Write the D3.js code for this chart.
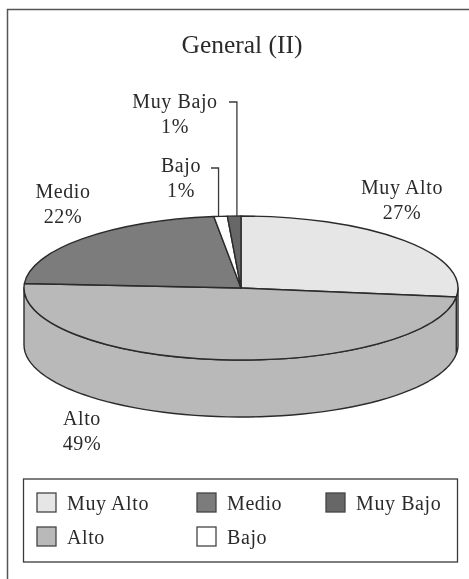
<!DOCTYPE html>
<html>
<head>
<meta charset="utf-8">
<script src="https://cdn.jsdelivr.net/npm/d3@7"></script>
<style>
  html, body { margin: 0; padding: 0; background: #fff; overflow: hidden; }
  svg { display: block; filter: blur(0.4px); }
  text { font-family: "Liberation Serif", serif; fill: #2a2a2a; }
</style>
</head>
<body>
<div id="chart"></div>
<script>
// values
const categories = ["Muy Alto", "Alto", "Medio", "Bajo", "Muy Bajo"]
const percents = [27, 49, 22, 1, 1]
const colors = ["#e6e6e6", "#b9b9b9", "#7c7c7c", "#ffffff", "#676767"]
const chartTitle = "General (II)"

// legend reads down the columns
const legendOrder = ["Muy Alto", "Alto", "Medio", "Bajo", "Muy Bajo"]

var width = 469
var height = 579
var cx = 241
var cy = 288
var rx = 217
var ry = 72
var depth = 57
var ink = "#2b2b2b"

var svg = d3.select("#chart").append("svg").attr("width", width).attr("height", height)

// outer frame, runs off the right and bottom of the scan
svg.append("path")
  .attr("d", "M7.5," + height + "V9.5H" + width)
  .attr("fill", "none").attr("stroke", "#555").attr("stroke-width", 1.5)

svg.append("text")
  .attr("x", 242).attr("y", 53)
  .attr("text-anchor", "middle").attr("font-size", 25.5)
  .text(chartTitle)

var dataset = categories.map(function(c, i) {
  return { name: c, n: percents[i], color: colors[i] }
})
var colorOf = d3.scaleOrdinal().domain(categories).range(colors)

var pie = d3.pie().sort(null).value(function(d) { return d.n })
var slices = pie(dataset)

// side wall, only the front half of the disc shows
function rimPoint(a, drop) {
  return [cx + rx * Math.sin(a), cy - ry * Math.cos(a) + drop]
}
var line = d3.line()
var front = [Math.PI / 2, Math.PI * 1.5]

var walls = svg.append("g")
slices.forEach(function(s) {
  var a0 = Math.max(s.startAngle, front[0])
  var a1 = Math.min(s.endAngle, front[1])
  if (a1 <= a0) return
  var steps = d3.range(0, 61).map(function(i) { return a0 + (a1 - a0) * i / 60 })
  var pts = steps.map(function(a) { return rimPoint(a, 0) })
    .concat(steps.slice().reverse().map(function(a) { return rimPoint(a, depth) }))
  walls.append("path")
    .attr("d", line(pts) + "Z")
    .attr("fill", s.data.color)
    .attr("stroke", ink).attr("stroke-width", 1.4).attr("stroke-linejoin", "round")
})

// top face: a flat pie squashed into an ellipse
var arc = d3.arc().innerRadius(0).outerRadius(rx)
svg.append("g")
  .attr("transform", "translate(" + cx + "," + cy + ") scale(1," + (ry / rx) + ")")
  .selectAll("path")
  .data(slices)
  .enter().append("path")
  .attr("d", arc)
  .attr("fill", function(d) { return d.data.color })
  .attr("stroke", ink).attr("stroke-width", 1.4)
  .attr("vector-effect", "non-scaling-stroke")
  .attr("stroke-linejoin", "round")

// slice labels, name over percent
var labelPos = {
  "Muy Alto": [402, 194],
  "Alto": [82, 425],
  "Medio": [63, 198],
  "Bajo": [181, 172],
  "Muy Bajo": [175, 108]
}
var labels = svg.selectAll(".labels")
  .data(slices)
  .enter().append("text")
  .attr("class", "labels")
  .attr("text-anchor", "middle")
  .attr("font-size", 20)
  .attr("letter-spacing", 0.6)
labels.append("tspan")
  .attr("x", function(d) { return labelPos[d.data.name][0] })
  .attr("y", function(d) { return labelPos[d.data.name][1] })
  .text(function(d) { return d.data.name })
labels.append("tspan")
  .attr("x", function(d) { return labelPos[d.data.name][0] })
  .attr("y", function(d) { return labelPos[d.data.name][1] + 25 })
  .text(function(d) { return d.data.n + "%" })

// leader lines for the two tiny slices: start point and where along the slice they land
var leaders = { "Bajo": [211, 168, 0.35], "Muy Bajo": [229, 102, 0.7] }
slices.filter(function(d) { return leaders[d.data.name] }).forEach(function(d) {
  var from = leaders[d.data.name]
  var top = rimPoint(d.startAngle + (d.endAngle - d.startAngle) * from[2], 0)
  svg.append("path")
    .attr("d", line([from.slice(0, 2), [top[0], from[1]], top]))
    .attr("fill", "none").attr("stroke", "#3a3a3a").attr("stroke-width", 1.3)
})

// legend
svg.append("rect")
  .attr("x", 23.5).attr("y", 479).attr("width", 434).attr("height", 83)
  .attr("fill", "#fff").attr("stroke", "#3a3a3a").attr("stroke-width", 1.3)

var colX = [37, 197, 326]
var rowY = [493, 527]
var legend = svg.selectAll(".legendItem")
  .data(legendOrder)
  .enter().append("g")
  .attr("class", "legendItem")
  .attr("transform", function(d, i) {
    return "translate(" + colX[Math.floor(i / 2)] + "," + rowY[i % 2] + ")"
  })
legend.append("rect")
  .attr("width", 19).attr("height", 19)
  .attr("fill", function(d) { return colorOf(d) })
  .attr("stroke", "#444").attr("stroke-width", 1.3)
legend.append("text")
  .attr("x", 30).attr("y", 17)
  .attr("font-size", 20)
  .attr("letter-spacing", 0.6)
  .text(function(d) { return d })
</script>
</body>
</html>
